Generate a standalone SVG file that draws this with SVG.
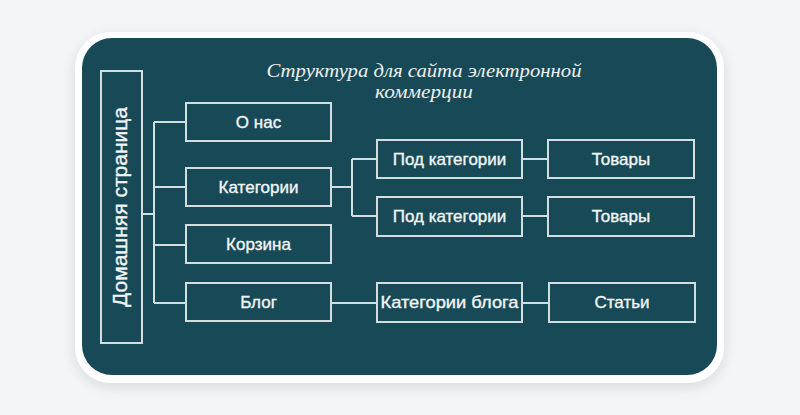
<svg xmlns="http://www.w3.org/2000/svg" width="800" height="415" viewBox="0 0 800 415">
<defs>
<filter id="sh" x="-10%" y="-10%" width="120%" height="130%">
<feGaussianBlur in="SourceAlpha" stdDeviation="7"/>
<feOffset dy="4" result="b"/>
<feComponentTransfer><feFuncA type="linear" slope="0.12"/></feComponentTransfer>
<feMerge><feMergeNode/><feMergeNode in="SourceGraphic"/></feMerge>
</filter>
</defs>
<style>
.box{fill:none;stroke:#d3dcde;stroke-width:2}
.lbl{font-family:"Liberation Sans",Arial,sans-serif;font-size:17px;fill:#f4f6f6;stroke:#f4f6f6;stroke-width:0.35;text-anchor:middle}
.con{fill:none;stroke:#d3dcde;stroke-width:2}
.title{font-family:"Liberation Serif","Times New Roman",serif;font-style:italic;font-size:19px;fill:#eef0f0;text-anchor:middle}
</style>
<rect width="800" height="415" fill="#f4f5f7"/>
<rect x="75" y="32" width="649" height="351" rx="36" fill="#ffffff" filter="url(#sh)"/>
<rect x="82" y="38" width="635" height="337" rx="30" fill="#174a56"/>
<g id="title">
<text class="title" x="424" y="77" textLength="315" lengthAdjust="spacingAndGlyphs">Структура для сайта электронной</text>
<text class="title" x="424" y="98" textLength="98" lengthAdjust="spacingAndGlyphs">коммерции</text>
</g>
<g id="connectors">
<path class="con" d="M142 214H154M154 122V303M154 122H186M154 187H186M154 245H186M154 303H186"/>
<path class="con" d="M331 187H352M352 159V216M352 159H377M352 216H377"/>
<path class="con" d="M522 159H548M522 216H548"/>
<path class="con" d="M331 303H377M522 303H549"/>
</g>
<g id="home">
<rect class="box" x="101" y="71" width="41" height="272"/>
<text class="lbl" transform="translate(127 207) rotate(-90)" x="0" y="0" style="font-size:21px" textLength="200" lengthAdjust="spacingAndGlyphs">Домашняя страница</text>
</g>
<g id="about">
<rect class="box" x="186" y="103" width="145" height="38"/>
<text class="lbl" x="258.5" y="128">О нас</text>
</g>
<g id="categories">
<rect class="box" x="186" y="168" width="145" height="38"/>
<text class="lbl" x="258.5" y="193">Категории</text>
</g>
<g id="cart">
<rect class="box" x="186" y="225" width="145" height="38"/>
<text class="lbl" x="258.5" y="250">Корзина</text>
</g>
<g id="blog">
<rect class="box" x="186" y="283" width="145" height="38"/>
<text class="lbl" x="258.5" y="308">Блог</text>
</g>
<g id="subcat1">
<rect class="box" x="377" y="140" width="145" height="38"/>
<text class="lbl" x="449.5" y="165">Под категории</text>
</g>
<g id="subcat2">
<rect class="box" x="377" y="197" width="145" height="39"/>
<text class="lbl" x="449.5" y="222">Под категории</text>
</g>
<g id="blogcat">
<rect class="box" x="377" y="283" width="145" height="39"/>
<text class="lbl" x="449.5" y="308" textLength="138" lengthAdjust="spacingAndGlyphs">Категории блога</text>
</g>
<g id="goods1">
<rect class="box" x="548" y="140" width="146" height="38"/>
<text class="lbl" x="621" y="165">Товары</text>
</g>
<g id="goods2">
<rect class="box" x="548" y="197" width="146" height="39"/>
<text class="lbl" x="621" y="222">Товары</text>
</g>
<g id="articles">
<rect class="box" x="549" y="283" width="146" height="39"/>
<text class="lbl" x="622" y="308">Статьи</text>
</g>
</svg>
